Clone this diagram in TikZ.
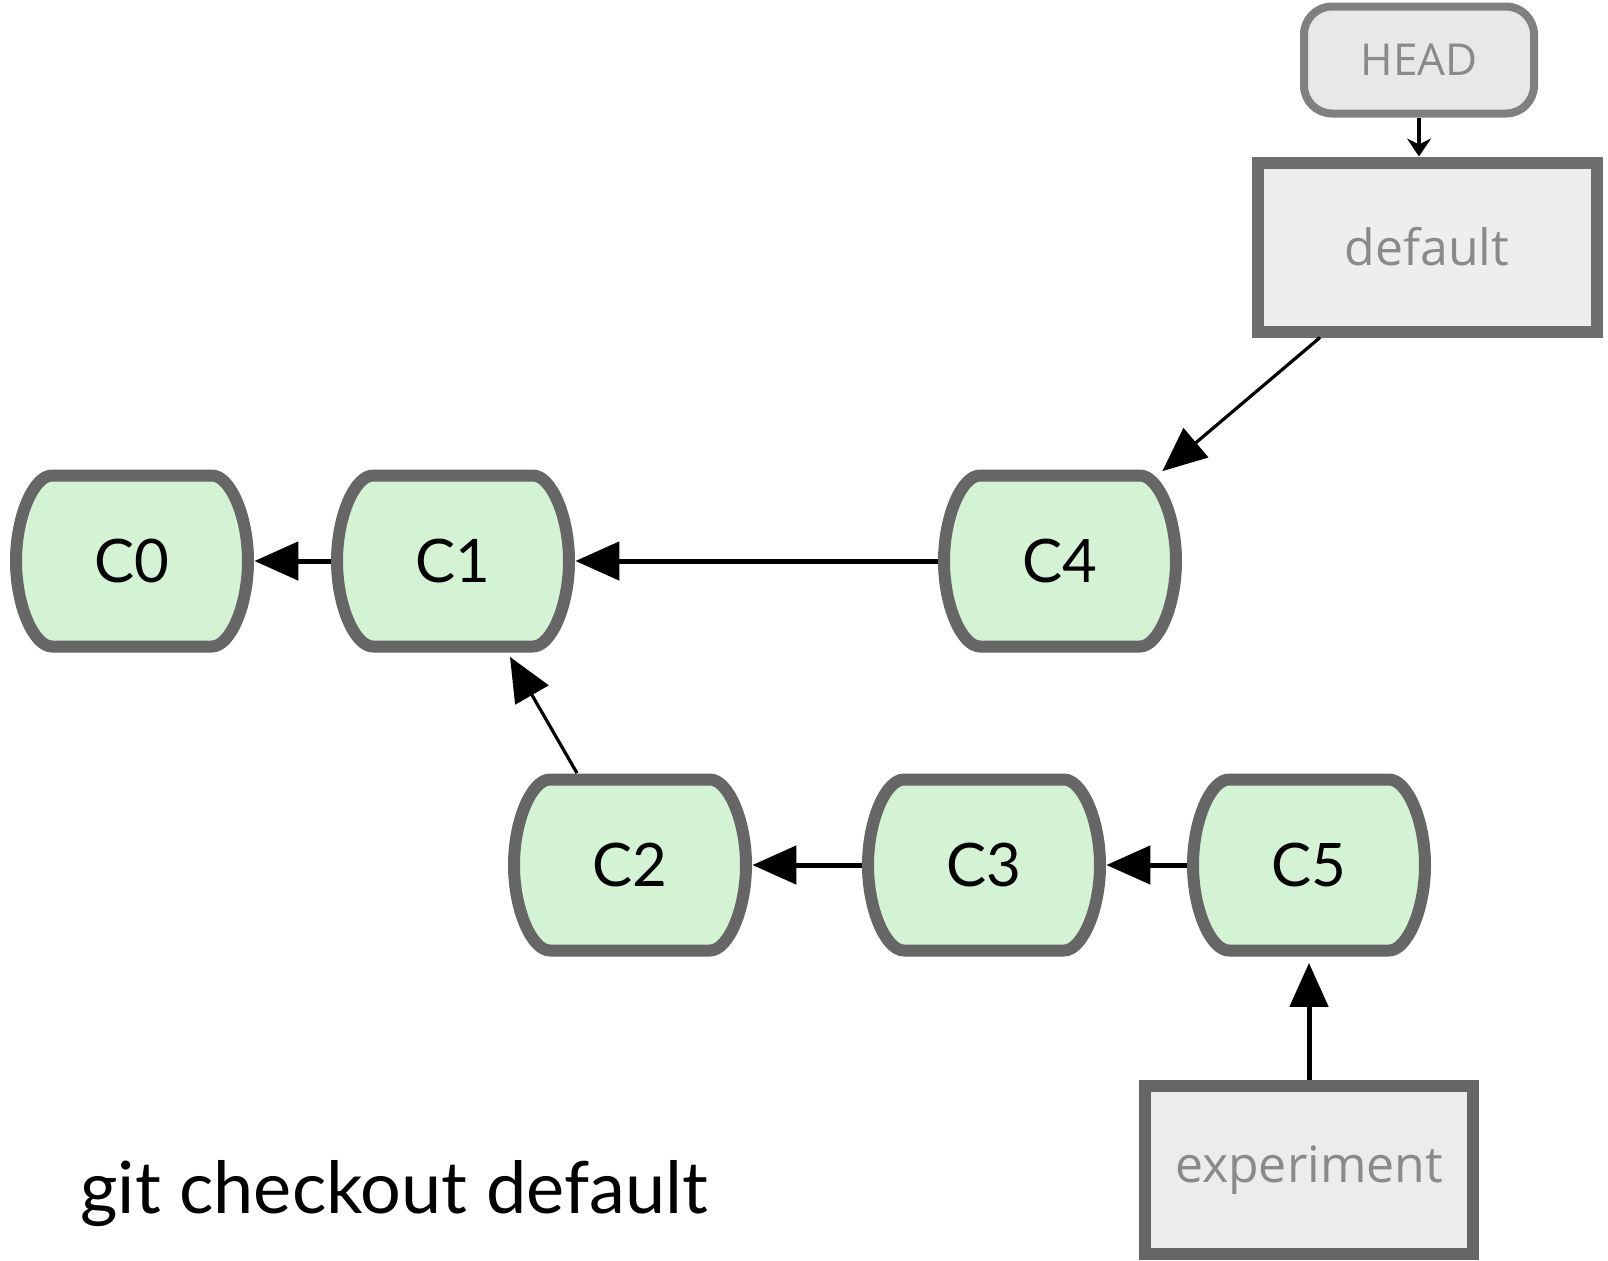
\documentclass[tikz,border=0pt]{standalone}
\usepackage{fontspec}
\setmainfont{Lato}
\newfontfamily\labelfont{Open Sans}
\usetikzlibrary{arrows.meta,backgrounds}
\definecolor{commitfill}{HTML}{D4F3D4}
\definecolor{commitdraw}{HTML}{666666}
\definecolor{branchfill}{HTML}{EEEEEE}
\definecolor{branchdraw}{HTML}{6E6E6E}
\definecolor{expfill}{HTML}{ECECEC}
\definecolor{headfill}{HTML}{E8E8E8}
\definecolor{headdraw}{HTML}{808080}
\definecolor{labelgray}{HTML}{8A8A8A}
\tikzset{
  commit/.style={rectangle, draw=none, inner sep=0pt, minimum width=122pt, minimum height=91.5pt, font=\fontsize{30}{36}\selectfont, text=black},
  commitshape/.style={draw=commitdraw, fill=commitfill, line width=6pt, line join=round},
  branchbox/.style={rectangle, draw=branchdraw, fill=branchfill, line width=6pt, inner sep=0pt, font=\labelfont\fontsize{25}{30}\selectfont, text=labelgray},
  headbox/.style={rectangle, rounded corners=14pt, draw=headdraw, fill=headfill, line width=4pt, inner sep=0pt, minimum width=115pt, minimum height=53.5pt, font=\labelfont\fontsize{22}{26}\selectfont, text=labelgray},
  bigarrow/.style={line width=2.5pt, -{Triangle[length=22pt,width=19pt]}},
  thinarrow/.style={line width=1.6pt, -{Triangle[length=22pt,width=19pt]}},
  headarrow/.style={line width=2pt, -{Stealth[length=9pt,width=12pt,inset=3pt]}},
  cmd/.style={font=\fontsize{36}{42}\selectfont, text=black, inner sep=0pt, anchor=base west}
}
\begin{document}
\begin{tikzpicture}[x=0.5pt,y=-0.5pt]
\useasboundingbox (0,0) rectangle (1608,1260);
% commits
\node[commit] (c0) at (132,561) {C0};
\node[commit] (c1) at (453,561) {C1};
\node[commit] (c4) at (1060,561) {C4};
\node[commit] (c2) at (630,865) {C2};
\node[commit] (c3) at (984,865) {C3};
\node[commit] (c5) at (1309,865) {C5};
\begin{scope}[on background layer]
\foreach \n in {c0,c1,c4,c2,c3,c5}{
  \draw[commitshape, shift={(\n.center)}]
    (-80,-85.5) -- (80,-85.5)
    .. controls (98,-85.5) and (116,-45) .. (116,0)
    .. controls (116,45) and (98,85.5) .. (80,85.5)
    -- (-80,85.5)
    .. controls (-98,85.5) and (-116,45) .. (-116,0)
    .. controls (-116,-45) and (-98,-85.5) .. (-80,-85.5) -- cycle;
}
\end{scope}
% branches
\node[headbox] (head) at (1419,60) {HEAD};
\node[branchbox, minimum width=169.5pt, minimum height=84.5pt] (default) at (1427,247) {default};
\node[branchbox, draw=commitdraw, fill=expfill, minimum width=164pt, minimum height=84pt] (exp) at (1309,1170) {experiment};
% command
\node[cmd] (cmd) at (80,1213) {git checkout default};
% connectors
\draw[bigarrow] (c1.west) -- (c0.east);
\draw[bigarrow] (c4.west) -- (c1.east);
\draw[bigarrow] (c3.west) -- (c2.east);
\draw[bigarrow] (c5.west) -- (c3.east);
\draw[thinarrow] ([xshift=-26.5pt]c2.north) -- ([xshift=28.5pt,yshift=-2pt]c1.south);
\draw[thinarrow] ([xshift=-53.5pt]default.south) -- ([xshift=-10pt,yshift=-1pt]c4.north east);
\draw[bigarrow] (exp.north) -- ([yshift=-3pt]exp.north |- c5.south);
\draw[headarrow] (head.south) -- (head.south |- default.north);
\end{tikzpicture}
\end{document}
